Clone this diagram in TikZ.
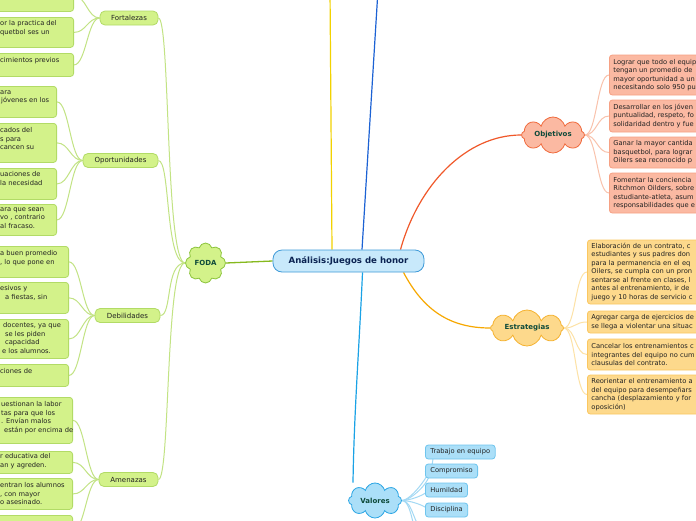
\documentclass[tikz,border=0pt]{standalone}
\usepackage{fontspec}
\setmainfont{DejaVu Sans}
\usetikzlibrary{shapes.symbols}
\definecolor{gfill}{HTML}{D3F28A}
\definecolor{gline}{HTML}{B2DB66}
\definecolor{gconn}{HTML}{C2E384}
\definecolor{gmain}{HTML}{86B91E}
\definecolor{gcloud}{HTML}{8CC43C}
\definecolor{ofill}{HTML}{FBB9A2}
\definecolor{oline}{HTML}{F6A184}
\definecolor{oconn}{HTML}{F9C2AC}
\definecolor{omain}{HTML}{F0582A}
\definecolor{ocloud}{HTML}{F06A3C}
\definecolor{yfill}{HTML}{FDD98C}
\definecolor{yline}{HTML}{FBC760}
\definecolor{yconn}{HTML}{FDE2A6}
\definecolor{ymain}{HTML}{F7A800}
\definecolor{ycloud}{HTML}{F5B230}
\definecolor{bfill}{HTML}{ABDFF8}
\definecolor{bline}{HTML}{6FC5EE}
\definecolor{bconn}{HTML}{A3D9F4}
\definecolor{bmain}{HTML}{1AA2E6}
\definecolor{bcloud}{HTML}{2AA5E4}
\definecolor{cfill}{HTML}{C8E9FB}
\definecolor{cline}{HTML}{3E9AD8}
\definecolor{royal}{HTML}{1C62D4}
\definecolor{gold}{HTML}{F2D200}
\definecolor{txt}{HTML}{222222}
\definecolor{cloudtxt}{HTML}{0E4A3A}
\definecolor{navy}{HTML}{0B2352}
\pgfdeclarelayer{bg}
\pgfsetlayers{bg,main}
\begin{document}
\begin{tikzpicture}[x=1pt,y=-1pt,
  small/.style={font=\fontsize{6.7}{8.5}\selectfont, text=txt},
  box/.style={small, rounded corners=3pt, line width=0.8pt, inner xsep=4pt, inner ysep=0pt, align=left},
  gbox/.style={box, fill=gfill, draw=gline},
  obox/.style={box, fill=ofill, draw=oline},
  ybox/.style={box, fill=yfill, draw=yline},
  bbox/.style={box, fill=bfill, draw=bline, inner xsep=5pt, minimum height=14pt},
  cat/.style={small, font=\fontsize{7}{8.5}\selectfont, fill=gfill, draw=gline, line width=0.8pt, rounded corners=5pt, minimum height=14pt, inner sep=0pt},
  frag/.style={small, inner sep=0pt, align=left, anchor=north west},
  cloudn/.style={cloud, cloud puffs=8, cloud ignores aspect, inner sep=0pt, font=\bfseries\fontsize{7}{8}\selectfont, text=cloudtxt, line width=0.8pt},
  gc/.style={draw=gconn, line width=1pt},
  oc/.style={draw=oconn, line width=1pt},
  yc/.style={draw=yconn, line width=1pt},
  bc/.style={draw=bconn, line width=1pt}
]
\useasboundingbox (0,0) rectangle (696,520);
\begin{pgfonlayer}{bg}
\fill[white] (0,0) rectangle (696,520);
\end{pgfonlayer}

% central
\node[fill=cfill, draw=cline, line width=0.8pt, rounded corners=9pt, minimum width=151pt, minimum height=22pt, inner sep=0pt, font=\bfseries\fontsize{8.6}{10}\selectfont, text=navy] (central) at (348.5,261) {Análisis:Juegos de honor};

% clouds
\node[cloudn, fill=gfill, draw=gcloud, minimum width=40pt, minimum height=40pt] (foda) at (205.5,263) {FODA};
\node[cloudn, fill=ofill, draw=ocloud, minimum width=63pt, minimum height=36pt] (obj) at (553,135) {Objetivos};
\node[cloudn, fill=yfill, draw=ycloud, minimum width=73pt, minimum height=36pt] (estr) at (527,328) {Estrategias};
\node[cloudn, fill=bfill, draw=bcloud, minimum width=53pt, minimum height=35pt] (val) at (375,500.5) {Valores};

% FODA categories
\node[cat, minimum width=58pt] (fort) at (129,18) {Fortalezas};
\node[cat, minimum width=75pt] (opor) at (120.5,160.5) {Oportunidades};
\node[cat, minimum width=65pt] (debi) at (127.5,315.5) {Debilidades};
\node[cat, minimum width=59pt] (amen) at (128.5,479.5) {Amenazas};

% Fortalezas children
\node[gbox, anchor=north east, minimum width=100pt, minimum height=31pt] (f1) at (74,-20) {};
\node[gbox, anchor=north east, minimum width=100pt, minimum height=30pt] (f2) at (74,17) {};
\node[gbox, anchor=north east, minimum width=100pt, minimum height=23pt] (f3) at (74,53) {};
\node[frag] (f2t) at (0,20.5) {or la practica del\\quetbol ses un};
\node[frag] (f3t) at (0,57.5) {cimientos previos};

% Oportunidades children
\node[gbox, anchor=north east, minimum width=100pt, minimum height=31pt] (o1) at (57,86) {};
\node[gbox, anchor=north east, minimum width=100pt, minimum height=39pt] (o2) at (57,123) {};
\node[gbox, anchor=north east, minimum width=100pt, minimum height=31pt] (o3) at (57,168) {};
\node[gbox, anchor=north east, minimum width=100pt, minimum height=31pt] (o4) at (57,204) {};
\node[frag] (o1t) at (0,90.5) {ara\\\hspace{1pt}jóvenes en los};
\node[frag] (o2t) at (0,127.5) {cados del\\s para\\cancen su};
\node[frag] (o3t) at (0,171.5) {uaciones de\\la necesidad};
\node[frag] (o4t) at (0,207.5) {ara que sean\\vo , contrario\\al fracaso.};

% Debilidades children
\node[gbox, anchor=north east, minimum width=100pt, minimum height=31pt] (d1) at (69,246) {};
\node[gbox, anchor=north east, minimum width=100pt, minimum height=31pt] (d2) at (69,282) {};
\node[gbox, anchor=north east, minimum width=100pt, minimum height=39pt] (d3) at (69,319) {};
\node[gbox, anchor=north east, minimum width=100pt, minimum height=22pt] (d4) at (69,364) {};
\node[frag] (d1t) at (0,250.5) {a buen promedio\\, lo que pone en};
\node[frag] (d2t) at (0,285.5) {esivos y\\\hspace{5pt}a fiestas, sin};
\node[frag] (d3t) at (0,322.5) {\hspace{3pt}docentes, ya que\\\hspace{5pt}se les piden\\\hspace{5pt}capacidad\\\hspace{2pt}e los alumnos.};
\node[frag] (d4t) at (0,368.5) {ciones de};

% Amenazas children
\node[gbox, anchor=north east, minimum width=100pt, minimum height=46pt] (a1) at (73,397) {};
\node[gbox, anchor=north east, minimum width=100pt, minimum height=22pt] (a2) at (73,451) {};
\node[gbox, anchor=north east, minimum width=100pt, minimum height=31pt] (a3) at (73,478) {};
\node[gbox, anchor=north east, minimum width=100pt, minimum height=30pt] (a4) at (73,515) {};
\node[frag] (a1t) at (1,401.5) {uestionan la labor\\tas para que los\\. Envían malos\\\hspace{3pt}están por encima de};
\node[frag] (a2t) at (0,453.5) {r educativa del\\an y agreden.};
\node[frag] (a3t) at (0,482.5) {entran los alumnos\\, con mayor\\o asesinado.};

% Objetivos children
\node[obox, anchor=west, minimum height=40pt, text width=140pt] (ob1) at (609,75) {Lograr que todo el equip\\tengan un promedio de\\mayor oportunidad a un\\necesitando solo 950 pu};
\node[obox, anchor=west, minimum height=32pt, text width=140pt] (ob2) at (609,116) {Desarrollar en los jóven\\puntualidad, respeto, fo\\solidaridad dentro y fue};
\node[obox, anchor=west, minimum height=31pt, text width=140pt] (ob3) at (609,152.5) {Ganar la mayor cantida\\basquetbol, para lograr\\Oilers sea reconocido p};
\node[obox, anchor=west, minimum height=40pt, text width=140pt] (ob4) at (609,193) {Fomentar la conciencia\\Ritchmon Oilders, sobre\\estudiante-atleta, asum\\responsabilidades que e};

% Estrategias children
\node[ybox, anchor=west, minimum height=64pt, text width=150pt] (es1) at (587,272) {Elaboración de un contrato, c\\estudiantes y sus padres don\\para la permanencia en el eq\\Oilers, se cumpla con un pron\\sentarse al frente en clases, l\\antes al entrenamiento, ir de\\juego y 10 horas de servicio c};
\node[ybox, anchor=west, minimum height=22pt, text width=150pt] (es2) at (587,322) {Agregar carga de ejercicios de\\se llega a violentar una situac};
\node[ybox, anchor=west, minimum height=31pt, text width=150pt] (es3) at (587,354.5) {Cancelar los entrenamientos c\\integrantes del equipo no cum\\clausulas del contrato.};
\node[ybox, anchor=west, minimum height=39pt, text width=150pt] (es4) at (587,394.5) {Reorientar el entrenamiento a\\del equipo para desempeñars\\cancha (desplazamiento y for\\oposición)};

% Valores children
\node[bbox, anchor=west] (v1) at (425,452) {Trabajo en equipo};
\node[bbox, anchor=west] (v2) at (425,471) {Compromiso};
\node[bbox, anchor=west] (v3) at (425,490) {Humildad};
\node[bbox, anchor=west] (v4) at (425,510) {Disciplina};
\coordinate (v5) at (425,529);
\coordinate (v6) at (425,548);
\coordinate (topy) at (330,-10);
\coordinate (topb) at (378,-10);

\begin{pgfonlayer}{bg}
% main branches
\draw[draw=gmain, line width=1.3pt] (foda.east) -- (central.west);
\draw[draw=omain, line width=1.2pt] ([xshift=52pt]central.north) .. controls +(18,-65) and +(-55,0) .. (obj.west);
\draw[draw=ymain, line width=1.2pt] ([xshift=55pt]central.south) .. controls +(20,38) and +(-40,0) .. (estr.west);
\draw[draw=bmain, line width=1.2pt] ([xshift=14pt]central.south) .. controls +(-3,70) and +(1,-70) .. ([xshift=-22pt]val.north);
\draw[draw=gold, line width=1.2pt] ([xshift=-16.5pt]central.north) -- (topy);
\draw[draw=royal, line width=1.2pt] ([xshift=13.5pt]central.north) -- (topb);
% FODA to categories
\foreach \c in {fort,opor,debi,amen}
  \draw[gc] (foda.west) .. controls +(-20,0) and +(12,0) .. (\c.east);
% categories to children
\foreach \c in {f1,f2,f3}
  \draw[gc] (fort.west) .. controls +(-12,0) and +(12,0) .. (\c.east);
\foreach \c in {o1,o2,o3,o4}
  \draw[gc] (opor.west) .. controls +(-12,0) and +(12,0) .. (\c.east);
\foreach \c in {d1,d2,d3,d4}
  \draw[gc] (debi.west) .. controls +(-12,0) and +(12,0) .. (\c.east);
\foreach \c in {a1,a2,a3,a4}
  \draw[gc] (amen.west) .. controls +(-12,0) and +(12,0) .. (\c.east);
\foreach \c in {ob1,ob2,ob3,ob4}
  \draw[oc] (obj.east) .. controls +(12,0) and +(-12,0) .. (\c.west);
\foreach \c in {es1,es2,es3,es4}
  \draw[yc] (estr.east) .. controls +(12,0) and +(-12,0) .. (\c.west);
\foreach \c in {v1,v2,v3,v4,v5,v6}
  \draw[bc] (val.east) .. controls +(12,0) and +(-12,0) .. (\c);
\end{pgfonlayer}
\end{tikzpicture}
\end{document}
